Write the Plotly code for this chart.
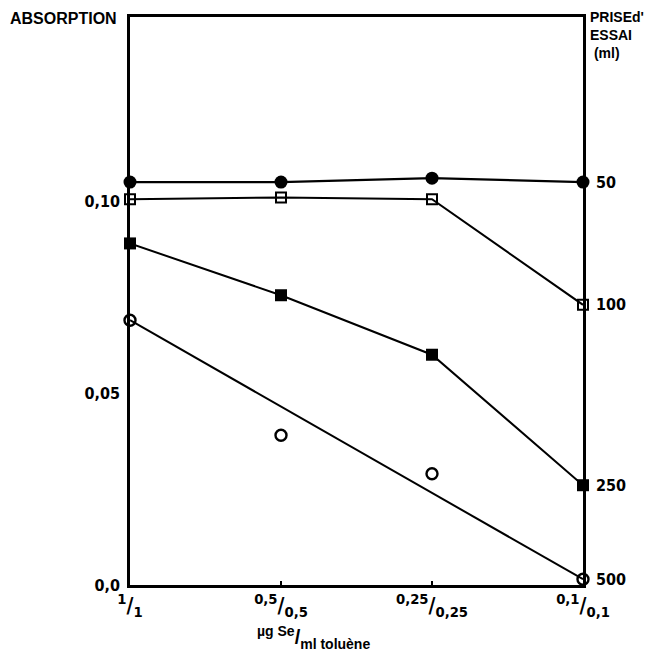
import plotly.graph_objects as go

categories = [0, 1, 2, 3]
tick_labels = ["<sup>1</sup>/<sub>1</sub>", "<sup>0,5</sup>/<sub>0,5</sub>",
               "<sup>0,25</sup>/<sub>0,25</sub>", "<sup>0,1</sup>/<sub>0,1</sub>"]

filled_circles = [0.105, 0.105, 0.106, 0.105]
open_squares = [0.1005, 0.101, 0.1005, 0.073]
filled_squares = [0.089, 0.0755, 0.060, 0.026]
open_circles = [0.069, 0.039, 0.029, 0.0015]
fit_x = [0, 3]
fit_open_circles = [0.069, 0.0015]

prise_essai = ["50", "100", "250", "500"]
prise_vals = [filled_circles[-1], open_squares[-1], filled_squares[-1], open_circles[-1]]

y_ticks = [0.0, 0.05, 0.10]
y_ticktext = ["0,0", "0,05", "0,10"]

NUM_FONT = "DejaVu Sans Condensed"
blk = "black"

fig = go.Figure()
fig.add_trace(go.Scatter(x=categories, y=filled_circles, mode="lines+markers",
                         line=dict(color=blk, width=2.2),
                         marker=dict(symbol="circle", size=13, color=blk),
                         cliponaxis=False))
fig.add_trace(go.Scatter(x=categories, y=open_squares, mode="lines+markers",
                         line=dict(color=blk, width=2),
                         marker=dict(symbol="square-open", size=10, color=blk, line=dict(width=2)),
                         cliponaxis=False))
fig.add_trace(go.Scatter(x=categories, y=filled_squares, mode="lines+markers",
                         line=dict(color=blk, width=2),
                         marker=dict(symbol="square", size=12, color=blk),
                         cliponaxis=False))
fig.add_trace(go.Scatter(x=fit_x, y=fit_open_circles, mode="lines",
                         line=dict(color=blk, width=2), cliponaxis=False))
fig.add_trace(go.Scatter(x=categories, y=open_circles, mode="markers",
                         marker=dict(symbol="circle-open", size=11, color=blk, line=dict(width=2.4)),
                         cliponaxis=False))
fig.add_trace(go.Scatter(x=categories, y=open_circles, mode="markers", yaxis="y2",
                         marker=dict(size=1, opacity=0), hoverinfo="skip"))

fig.update_layout(
    width=662, height=655,
    margin=dict(l=122, r=87, t=9, b=78),
    paper_bgcolor="white", plot_bgcolor="white",
    showlegend=False,
    xaxis=dict(range=[0, 3], tickvals=categories, ticktext=tick_labels, automargin=False,
               showgrid=False, zeroline=False, showline=True, mirror=True,
               linecolor=blk, linewidth=2.5, ticks="inside", ticklen=4, tickwidth=2,
               tickcolor=blk,
               tickfont=dict(family=NUM_FONT, size=21, color=blk, weight="bold")),
    yaxis=dict(range=[0, 0.148], tickvals=y_ticks, ticktext=y_ticktext, automargin=False,
               showgrid=False, zeroline=False, showline=True, mirror=True,
               linecolor=blk, linewidth=2.5, ticks="", ticklabelstandoff=4,
               tickfont=dict(family=NUM_FONT, size=16, color=blk, weight="bold")),
    yaxis2=dict(range=[0, 0.148], overlaying="y", side="right", automargin=False,
                tickvals=prise_vals, ticktext=prise_essai, ticklabelstandoff=12,
                showgrid=False, zeroline=False, showline=False, ticks="",
                tickfont=dict(family=NUM_FONT, size=16, color=blk, weight="bold")),
    annotations=[
        dict(text="ABSORPTION", xref="paper", yref="paper", x=0, y=1,
             xanchor="right", yanchor="middle", xshift=-11, yshift=-1, showarrow=False,
             font=dict(family="Liberation Sans", size=16, color=blk, weight="bold")),
        dict(text="PRISEd'<br>ESSAI<br> (ml)", xref="paper", yref="paper", x=1, y=1,
             xanchor="left", yanchor="top", xshift=5, yshift=10, showarrow=False, align="left",
             font=dict(family="Liberation Sans", size=14, color=blk, weight="bold")),
        dict(text="<sup>µg Se</sup>/<sub>ml toluène</sub>", xref="paper", yref="paper",
             x=0.405, y=0, xanchor="center", yanchor="middle", yshift=-52, showarrow=False,
             font=dict(family="Liberation Sans", size=20, color=blk, weight="bold")),
    ],
)

fig.write_html("out.html")
